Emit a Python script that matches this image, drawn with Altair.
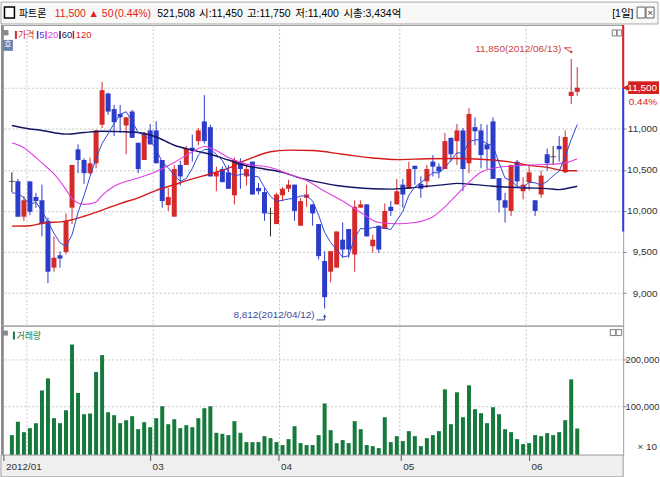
import altair as alt
import pandas as pd

# ---------------- data ----------------
opens = [10360, 10360, 9930, 10360, 10170, 10130, 9880, 9310, 9460, 9500,
         10040, 10750, 10620, 10460, 10580, 11050, 11430, 11240, 11180, 11040,
         11210, 10830, 10620, 10980, 10980, 10620, 10070, 9930, 10560, 10560,
         10770, 10850, 11090, 11020, 10420, 10510, 10470, 10190, 10600, 10420,
         10600, 10280, 10230, 9970, 9840, 10190, 10270, 10320, 9820, 10160,
         10080, 9840, 9390, 9260, 9310, 9650, 9780, 9470, 10040, 10080,
         9570, 9820, 9780, 10050, 10080, 10320, 10270, 10550, 10330, 10360,
         10600, 10540, 10510, 10890, 10850, 10980, 10580, 11020, 10980, 10810,
         11090, 10400, 10130, 10000, 10600, 10240, 10350, 10130, 10200, 10690,
         10660, 10790, 10470, 11400, 11450]
highs = [10470, 10390, 10180, 10360, 10220, 10320, 9920, 9690, 9510, 9970,
         10560, 10810, 10640, 10650, 10990, 11570, 11440, 11290, 11290, 11140,
         11230, 10830, 10960, 11060, 11090, 10620, 10280, 10560, 10610, 10790,
         10930, 11010, 11410, 11050, 10540, 10540, 10560, 10650, 10640, 10570,
         10600, 10340, 10280, 10040, 10220, 10290, 10380, 10320, 10160, 10320,
         10080, 9840, 9510, 9510, 9750, 9860, 9780, 10130, 10130, 10080,
         9710, 9820, 10090, 10120, 10390, 10390, 10600, 10550, 10420, 10560,
         10680, 10580, 10950, 10890, 11060, 11010, 11250, 11140, 11060, 11050,
         11140, 10400, 10220, 10560, 10620, 10410, 10560, 10130, 10490, 10760,
         10790, 10910, 10980, 11850, 11750]
lows = [10230, 9930, 9880, 9950, 10040, 9690, 9120, 9260, 9310, 9470,
        9840, 10460, 10330, 10440, 10520, 11010, 11170, 10910, 10950, 10690,
        10890, 10460, 10620, 10810, 10580, 10040, 10000, 9930, 10310, 10560,
        10600, 10800, 10820, 10420, 10240, 10350, 10270, 10080, 10270, 10310,
        10200, 10200, 9880, 9690, 9840, 10120, 10230, 9880, 9820, 10050,
        9820, 9410, 8812, 9130, 9310, 9430, 9430, 9260, 10040, 9690,
        9490, 9490, 9780, 9940, 10080, 10040, 10270, 10320, 10160, 10280,
        10420, 10400, 10510, 10600, 10560, 10240, 10460, 10800, 10520, 10510,
        10390, 9980, 9860, 9940, 10300, 10140, 10250, 9940, 10160, 10490,
        10560, 10600, 10460, 11300, 11400]
closes = [10360, 9930, 10130, 9990, 10120, 9840, 9260, 9430, 9420, 9880,
          10560, 10620, 10460, 10580, 10980, 11470, 11210, 11080, 11140, 11140,
          10890, 10510, 10950, 10810, 10580, 10120, 10170, 10510, 10420, 10760,
          10730, 10980, 10850, 10420, 10470, 10350, 10270, 10620, 10510, 10510,
          10200, 10240, 9970, 9970, 10200, 10270, 10320, 10000, 10120, 10200,
          9970, 9450, 8950, 9510, 9750, 9530, 9530, 10050, 10080, 9690,
          9650, 9530, 10000, 10000, 10240, 10200, 10510, 10510, 10270, 10510,
          10540, 10480, 10850, 10690, 10980, 10510, 11180, 10970, 10680, 10750,
          10390, 10130, 10040, 10560, 10360, 10320, 10470, 10000, 10430, 10580,
          10660, 10750, 10900, 11450, 11500]
volumes = [37900, 66400, 44300, 52900, 63600, 134000, 160000, 74300, 63600, 91400,
           232800, 128600, 82900, 84300, 173500, 210000, 87100, 80700, 63600, 70000,
           78600, 50700, 65700, 55000, 74300, 100000, 61400, 72100, 52900, 59300,
           55000, 74300, 95700, 100000, 42900, 40700, 37900, 67900, 42900, 22900,
           22900, 22900, 35700, 31400, 22900, 16500, 29300, 57100, 20700, 16500,
           16500, 37900, 106000, 48600, 20700, 27200, 20700, 67900, 50700, 16500,
           14300, 10000, 76400, 22900, 35700, 25000, 46400, 35700, 14300, 31400,
           37900, 46400, 136400, 61400, 130000, 76400, 145000, 93600, 85000, 63600,
           97900, 82900, 50700, 44300, 29300, 18600, 20700, 37900, 35700, 42200,
           37900, 44300, 70000, 157800, 52150]

ma5_first = [10220, 10215, 10160, 10080]
ma20_i = [0, 2, 4, 6, 7, 9, 10, 12, 14, 15, 17, 21, 24, 27, 30, 32, 34, 36, 39, 43,
          46, 49, 52, 55, 58, 61, 64, 67, 70, 72, 74, 76, 78, 80, 83, 86, 89, 92, 94]
ma20_v = [10830, 10770, 10650, 10520, 10450, 10260, 10150, 10080, 10110, 10190, 10300,
          10400, 10480, 10590, 10720, 10785, 10735, 10650, 10570, 10530,
          10450, 10370, 10240, 10120, 9980, 9860, 9845, 9860, 9930, 10050, 10200,
          10350, 10470, 10520, 10545, 10560, 10565, 10585, 10636]
ma60_i = [0, 2, 5, 9, 12, 15, 18, 21, 24, 27, 30, 33, 36, 39, 42, 45, 48, 51, 54, 57,
          60, 63, 66, 69, 72, 74, 77, 80, 83, 86, 89, 91, 93, 94]
ma60_v = [11040, 11010, 10980, 10935, 10955, 10970, 10965, 10955, 10900, 10800,
          10740, 10690, 10620, 10550, 10510, 10470, 10400, 10350, 10310, 10285,
          10270, 10265, 10280, 10300, 10320, 10335, 10320, 10300, 10288, 10280,
          10272, 10260, 10285, 10300]
ma120_i = [0, 3, 5, 9, 12, 15, 18, 21, 24, 27, 30, 33, 36, 38, 40, 43, 46, 50, 55, 60,
           64, 69, 74, 78, 80, 83, 86, 89, 92, 94]
ma120_v = [9815, 9820, 9850, 9876, 9935, 10010, 10090, 10160, 10250, 10320, 10390,
           10450, 10520, 10590, 10650, 10720, 10740, 10735, 10690, 10645, 10625,
           10635, 10638, 10630, 10620, 10595, 10555, 10530, 10490, 10490]

month_start = [0, 3, 24, 45, 65, 86]
month_label = ["2012/01", "", "03", "04", "05", "06"]
price_ticks = [9000, 9500, 10000, 10500, 11000, 11500]
vol_ticks = [100000, 200000]
range_low = 9750
hi_note = "11,850(2012/06/13)"
lo_note = "8,812(2012/04/12)"

# ---------------- styling ----------------
FONT = "Liberation Sans, Arial, Noto Sans CJK KR, sans-serif"
KFONT = "Noto Sans CJK KR, sans-serif"
UP, DOWN, FLAT = "#d42a2a", "#2b3cc8", "#222222"
MA5C, MA20C, MA60C, MA120C = "#3146d6", "#e23ee2", "#141464", "#d41a1a"
VOLC = "#167a3d"
GRID = "#c6c6c6"
W = 623
XDOM = [-0.651, 100.81]
PDOM = [8604, 12264]
VDOM = [-4900, 273400]

n = len(closes)
df = pd.DataFrame({"i": list(range(n)), "open": opens, "high": highs,
                   "low": lows, "close": closes, "vol": volumes})
df["dir"] = ["up" if c > o else ("down" if c < o else "flat") for o, c in zip(opens, closes)]

ma5 = pd.Series(closes, dtype=float).rolling(5).mean()
ma5.iloc[:4] = ma5_first
ma5_df = pd.DataFrame({"i": list(range(n)), "v": ma5.values})
ma20_df = pd.DataFrame({"i": ma20_i, "v": ma20_v})
ma60_df = pd.DataFrame({"i": ma60_i, "v": ma60_v})
ma120_df = pd.DataFrame({"i": ma120_i, "v": ma120_v})

grid_df = pd.DataFrame({"b": [s - 0.5 for s in month_start[1:]]})
band_df = pd.DataFrame({"b": [s - 0.5 for s in month_start], "label": month_label})
band_df = band_df[band_df["label"] != ""]

one = pd.DataFrame({"k": [0]})


def X(f="i"):
    return alt.X(f"{f}:Q", scale=alt.Scale(domain=XDOM, nice=False, zero=False), axis=None)


price_axis = alt.Axis(orient="right", values=price_ticks,
                      labelExpr="datum.value == 11500 ? '' : format(datum.value, ',')",
                      grid=True, gridDash=[2, 2], gridColor=GRID, domain=False,
                      tickSize=3, tickColor="#8a8a8a", labelAlign="right", labelPadding=31,
                      labelFont=FONT, labelFontSize=10, labelColor="#333333", title=None)


def PY(f):
    return alt.Y(f"{f}:Q", scale=alt.Scale(domain=PDOM, nice=False, zero=False), axis=price_axis)


def label(txt, x, y, color="#000000", size=11, align="left", font=FONT):
    return alt.Chart(one).mark_text(text=txt, align=align, baseline="middle", font=font,
                                    fontSize=size, color=color).encode(
        x=alt.value(x), y=alt.value(y))


def box(x, x2, y, y2, fill, stroke="", sw=1.0):
    kw = {"fill": fill}
    if stroke:
        kw.update(stroke=stroke, strokeWidth=sw)
    return alt.Chart(one).mark_rect(**kw).encode(
        x=alt.value(x), x2=alt.value(x2), y=alt.value(y), y2=alt.value(y2))


dir_color = alt.Color("dir:N", scale=alt.Scale(domain=["up", "down", "flat"],
                                               range=[UP, DOWN, FLAT]), legend=None)

# ---------------- header ----------------
hdr_layers = [box(-2, 658, 0, 22, "#f8f8f6", "#a8a8a8"),
              box(1.5, 11.5, 5, 16, "#ffffff", "#000000", 1.5)]
for t, x, c, s in [("파트론", 16, "#000000", 10), ("11,500", 52, "#e01e1e", 10.5),
                   ("▲ 50", 86, "#e01e1e", 10.5), ("(0.44%)", 112, "#e01e1e", 10.5),
                   ("521,508", 155, "#000000", 10.5), ("시:11,450", 197, "#000000", 10.5),
                   ("고:11,750", 245, "#000000", 10.5), ("저:11,400", 293.5, "#000000", 10.5),
                   ("시총:3,434억", 342, "#000000", 10.5), ("[1일]", 612, "#000000", 10.5)]:
    hdr_layers.append(label(t, x, 11.5, c, s))
hdr_layers += [box(637, 645, 5, 16, "#ffffff", "#606060"), box(646, 654, 5, 16, "#ffffff", "#606060"),
               label("×", 650, 10.5, "#303030", 10, "center", FONT)]
header = alt.layer(*hdr_layers).properties(width=W, height=23,
                                           view=alt.ViewBackground(stroke="transparent"))

# ---------------- price panel ----------------
vgrid = alt.Chart(grid_df).mark_rule(strokeDash=[2, 2], color=GRID).encode(x=X("b"))
wicks = alt.Chart(df).mark_rule(strokeWidth=1).encode(x=X(), y=PY("low"), y2="high:Q", color=dir_color)
bodies = alt.Chart(df).transform_filter("datum.open != datum.close").mark_bar(size=5).encode(
    x=X(), y=PY("open"), y2="close:Q", color=dir_color)
dojis = alt.Chart(df).transform_filter("datum.open == datum.close").mark_tick(
    orient="horizontal", size=6, thickness=1).encode(x=X(), y=PY("close"), color=dir_color)


def ma_line(d, color, width):
    return alt.Chart(d).mark_line(color=color, strokeWidth=width, interpolate="monotone").encode(
        x=X(), y=PY("v"))


ma120_l = ma_line(ma120_df, MA120C, 1.4)
ma60_l = ma_line(ma60_df, MA60C, 1.4)
ma20_l = ma_line(ma20_df, MA20C, 1.1)
ma5_l = alt.Chart(ma5_df).mark_line(color=MA5C, strokeWidth=1).encode(x=X(), y=PY("v"))

hi_i = int(pd.Series(highs).idxmax())
lo_i = int(pd.Series(lows).idxmin())
hi_v, lo_v = highs[hi_i], lows[lo_i]
ann = pd.DataFrame({"i": [hi_i, lo_i], "v": [hi_v, lo_v], "txt": [hi_note, lo_note],
                    "kind": ["hi", "lo"]})
hi_txt = alt.Chart(ann).transform_filter("datum.kind == 'hi'").mark_text(
    align="right", baseline="middle", dx=-10, dy=-10, font=FONT, fontSize=10, color="#cc4444").encode(
    x=X(), y=PY("v"), text="txt:N")
lo_txt = alt.Chart(ann).transform_filter("datum.kind == 'lo'").mark_text(
    align="right", baseline="middle", dx=-10, dy=7, font=FONT, fontSize=10, color="#3a4a9c").encode(
    x=X(), y=PY("v"), text="txt:N")
hi_path = pd.DataFrame({"i": [hi_i - 1.15, hi_i, hi_i], "v": [hi_v + 136, hi_v + 136, hi_v + 80]})
lo_path = pd.DataFrame({"i": [lo_i - 1.35, lo_i, lo_i], "v": [lo_v - 139, lo_v - 139, lo_v - 92]})
hi_line = alt.Chart(hi_path).mark_line(color="#cc4444", strokeWidth=1).encode(x=X(), y=PY("v"), order="v:Q")
lo_line = alt.Chart(lo_path).mark_line(color="#3a4a9c", strokeWidth=1).encode(x=X(), y=PY("v"))
hi_head = alt.Chart(ann).transform_filter("datum.kind == 'hi'").transform_calculate(
    a="datum.v + 82").mark_point(shape="triangle-down", filled=True, size=12, color="#cc4444",
                                  opacity=1).encode(x=X(), y=PY("a"))
lo_head = alt.Chart(ann).transform_filter("datum.kind == 'lo'").transform_calculate(
    a="datum.v - 88").mark_point(shape="triangle-up", filled=True, size=12, color="#3a4a9c",
                                  opacity=1).encode(x=X(), y=PY("a"))

cur = pd.DataFrame({"top": [PDOM[1]], "cur": [closes[-1]], "prev": [closes[-2]], "lowband": [range_low]})
mk_red = alt.Chart(cur).mark_rule(color="#e01e1e", strokeWidth=2).encode(
    x=alt.value(W), y=PY("top"), y2="cur:Q")
mk_blue = alt.Chart(cur).mark_rule(color="#2b3cd8", strokeWidth=2).encode(
    x=alt.value(W), y=PY("cur"), y2="lowband:Q")
tag = alt.Chart(cur).transform_calculate(t="datum.cur + 78", b="datum.cur - 76").mark_rect(
    color="#d42020").encode(x=alt.value(628), x2=alt.value(659), y=PY("t"), y2="b:Q")
tag_txt = alt.Chart(cur).mark_text(align="right", baseline="middle", font=FONT, fontSize=10,
                                   color="#ffffff").encode(
    x=alt.value(657), y=PY("cur"), text=alt.Text("cur:Q", format=","))
pct_txt = alt.Chart(cur).transform_calculate(
    p="format((datum.cur - datum.prev) / datum.prev * 100, '.2f') + '%'").mark_text(
    align="right", baseline="middle", dy=14, font=FONT, fontSize=10, color="#d42020").encode(
    x=alt.value(657), y=PY("cur"), text="p:N")
tri = alt.Chart(cur).mark_point(shape="triangle-left", filled=True, size=40, color="#d42020",
                                opacity=1).encode(x=alt.value(625.5), y=PY("cur"))

legend_layers = [box(0, 5.5, 5, 10.5, "#8a8a8a"),
                 box(12, 14, 6, 14, UP), label("가격", 15, 10, UP, 9, "left", KFONT),
                 box(34, 35.5, 6, 14, MA5C), label("5", 36.5, 10, MA5C, 9.5),
                 box(42.5, 44, 6, 14, MA20C), label("20", 45, 10, MA20C, 9.5),
                 box(56.5, 58, 6, 14, MA60C), label("60", 59, 10, MA60C, 9.5),
                 box(70, 71.5, 6, 14, MA120C), label("120", 73, 10, MA120C, 9.5),
                 box(0, 10, 15, 26, "#6d82b4"), label("호", 5, 20.5, "#ffffff", 8, "center", KFONT),
                 box(612, 616.5, 5, 11, "#ffffff", "#7a7a7a"), box(617, 621.5, 5, 11, "#ffffff", "#7a7a7a"),
                 box(-2, 0, 0, 302, "#8c8c8c")]

price = alt.layer(vgrid, wicks, bodies, dojis, ma120_l, ma60_l, ma20_l, ma5_l,
                  hi_line, hi_head, hi_txt, lo_line, lo_head, lo_txt,
                  mk_red, mk_blue, tag, tag_txt, pct_txt, tri, *legend_layers).properties(
    width=W, height=302)

# ---------------- volume panel ----------------
vol_axis = alt.Axis(orient="right", values=vol_ticks, labelExpr="format(datum.value, ',')",
                    grid=True, gridDash=[2, 2], gridColor=GRID, domain=False, tickSize=3,
                    tickColor="#8a8a8a", labelAlign="right", labelPadding=33, labelFont=FONT,
                    labelFontSize=9.5, labelColor="#333333", title=None)
vgrid2 = alt.Chart(grid_df).mark_rule(strokeDash=[2, 2], color=GRID).encode(x=X("b"))
vbars = alt.Chart(df).mark_bar(size=4, color=VOLC).encode(
    x=X(), y=alt.Y("vol:Q", scale=alt.Scale(domain=VDOM, nice=False, zero=False), axis=vol_axis),
    y2=alt.datum(VDOM[0]))
vol_layers = [box(0, 5, 5, 10, "#8a8a8a"), box(10, 12, 6, 14, VOLC),
              label("거래량", 13.5, 10, VOLC, 9, "left", KFONT),
              label("× 10", 657, 122, "#333333", 10, "right"),
              box(610, 615.5, 4, 10, "#ffffff", "#7a7a7a"), box(616, 621.5, 4, 10, "#ffffff", "#7a7a7a"),
              box(-2, 0, 0, 130, "#8c8c8c")]
volume = alt.layer(vgrid2, vbars, *vol_layers).properties(width=W, height=130)

# ---------------- date band ----------------
band_bg = box(-2, W, 0, 22, "#efefef", "#9a9a9a")
band_ticks = alt.Chart(band_df).mark_rule(color="#555555").encode(
    x=X("b"), y=alt.value(0), y2=alt.value(6))
band_txt = alt.Chart(band_df).mark_text(align="left", baseline="middle", dx=2, font=FONT,
                                        fontSize=10, color="#333333").encode(
    x=X("b"), y=alt.value(12), text="label:N")
band = alt.layer(band_bg, band_ticks, band_txt).properties(
    width=W, height=22, view=alt.ViewBackground(stroke="transparent"))

chart = alt.vconcat(header, price, volume, band, spacing=0, bounds="flush").properties(
    padding=0, background="#ffffff").configure_view(stroke="#9c9c9c", strokeWidth=1)

chart.save("out.html", embed_options={"renderer": "svg", "actions": False})
